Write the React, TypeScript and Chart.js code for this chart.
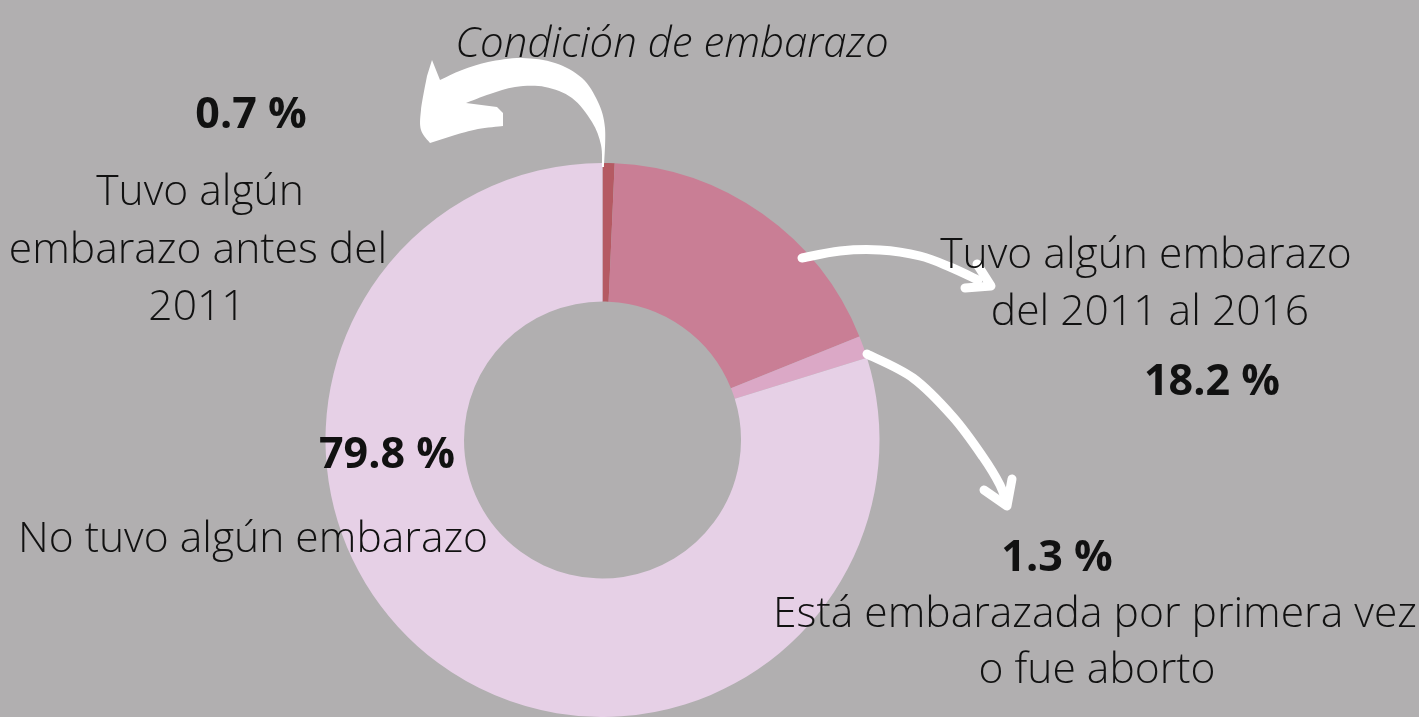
import React, { useEffect, useRef } from "react";
import { Chart, registerables } from "chart.js";

Chart.register(...registerables);

const categories = [
  "Tuvo algún embarazo antes del 2011",
  "Tuvo algún embarazo del 2011 al 2016",
  "Está embarazada por primera vez o fue aborto",
  "No tuvo algún embarazo",
];
const values = [0.7, 18.2, 1.3, 79.8];
const colors = ["#b55a63", "#c97e95", "#dba8c6", "#e6d0e6"];
const title = "Condición de embarazo";
const labelLines = [
  ["Tuvo algún", "embarazo antes del", "2011"],
  ["Tuvo algún embarazo", "del 2011 al 2016"],
  ["Está embarazada por primera vez", "o fue aborto"],
  ["No tuvo algún embarazo"],
];

const BG = "#b1afb0";
const FONT = '"Open Sans", "DejaVu Sans", sans-serif';

type P = [number, number];

function smooth(ctx: CanvasRenderingContext2D, pts: P[], start: boolean) {
  if (start) ctx.moveTo(pts[0][0], pts[0][1]);
  else ctx.lineTo(pts[0][0], pts[0][1]);
  for (let i = 0; i < pts.length - 1; i++) {
    const p0 = pts[Math.max(0, i - 1)];
    const p1 = pts[i];
    const p2 = pts[i + 1];
    const p3 = pts[Math.min(pts.length - 1, i + 2)];
    ctx.bezierCurveTo(
      p1[0] + (p2[0] - p0[0]) / 6,
      p1[1] + (p2[1] - p0[1]) / 6,
      p2[0] - (p3[0] - p1[0]) / 6,
      p2[1] - (p3[1] - p1[1]) / 6,
      p2[0],
      p2[1]
    );
  }
}

const decorPlugin = {
  id: "decor",
  beforeDraw(chart: any) {
    const ctx = chart.ctx as CanvasRenderingContext2D;
    ctx.save();
    ctx.fillStyle = BG;
    ctx.fillRect(0, 0, chart.width, chart.height);
    ctx.restore();
  },
  afterDraw(chart: any) {
    const ctx = chart.ctx as CanvasRenderingContext2D;
    ctx.save();
    // big curved arrow
    ctx.fillStyle = "#ffffff";
    ctx.beginPath();
    smooth(
      ctx,
      [
        [604, 167],
        [605, 128],
        [598, 102],
        [582, 78],
        [555, 63],
        [522, 58],
        [488, 62],
        [462, 70],
        [440, 80],
      ],
      true
    );
    ctx.lineTo(432, 60);
    smooth(
      ctx,
      [
        [427, 76],
        [421, 110],
        [421, 130],
        [430, 143],
      ],
      false
    );
    smooth(
      ctx,
      [
        [455, 135],
        [478, 129],
        [503, 126],
      ],
      false
    );
    ctx.lineTo(503, 113);
    ctx.lineTo(497, 107);
    ctx.lineTo(466, 103);
    smooth(
      ctx,
      [
        [466, 103],
        [490, 94],
        [515, 87],
        [545, 87],
        [572, 98],
        [592, 122],
        [601, 145],
        [602, 167],
      ],
      false
    );
    ctx.closePath();
    ctx.fill();

    ctx.strokeStyle = "#ffffff";
    ctx.lineWidth = 9;
    ctx.lineCap = "round";
    ctx.lineJoin = "round";
    // arrow 2
    ctx.beginPath();
    smooth(
      ctx,
      [
        [802, 258],
        [840, 251],
        [880, 250],
        [920, 256],
        [950, 267],
        [978, 280],
      ],
      true
    );
    ctx.stroke();
    ctx.beginPath();
    ctx.moveTo(977, 264);
    ctx.lineTo(991, 286);
    ctx.lineTo(965, 288);
    ctx.stroke();
    // arrow 3
    ctx.beginPath();
    smooth(
      ctx,
      [
        [867, 354],
        [913, 378],
        [953, 417],
        [983, 457],
        [1000, 485],
        [1006, 502],
      ],
      true
    );
    ctx.stroke();
    ctx.beginPath();
    ctx.moveTo(984, 490);
    ctx.lineTo(1007, 506);
    ctx.lineTo(1012, 479);
    ctx.stroke();

    // texts
    ctx.fillStyle = "#111111";
    ctx.textAlign = "center";
    ctx.textBaseline = "alphabetic";
    ctx.font = `italic 300 42px ${FONT}`;
    ctx.fillText(title, 672, 57);

    const pct = (v: number) => `${v.toFixed(1)} %`;
    ctx.font = `bold 43px ${FONT}`;
    ctx.fillText(pct(values[0]), 251, 128);
    ctx.fillText(pct(values[1]), 1212, 395);
    ctx.fillText(pct(values[2]), 1057, 571);
    ctx.fillText(pct(values[3]), 387, 468);

    ctx.font = `300 42.6px ${FONT}`;
    const l0 = labelLines[0];
    ctx.fillText(l0[0], 200, 205);
    ctx.fillText(l0[1], 198, 263);
    ctx.fillText(l0[2], 197, 320);
    const l1 = labelLines[1];
    ctx.fillText(l1[0], 1146, 268);
    ctx.fillText(l1[1], 1150, 325);
    const l2 = labelLines[2];
    ctx.fillText(l2[0], 1095, 627);
    ctx.fillText(l2[1], 1097, 683);
    ctx.fillText(labelLines[3][0], 253, 552);
    ctx.restore();
  },
};

export default function App() {
  const ref = useRef<HTMLCanvasElement | null>(null);
  useEffect(() => {
    if (!ref.current) return;
    const chart = new Chart(ref.current, {
      type: "doughnut",
      data: {
        labels: categories,
        datasets: [
          {
            data: values,
            backgroundColor: colors,
            borderWidth: 0,
          },
        ],
      },
      options: {
        animation: false,
        responsive: false,
        maintainAspectRatio: false,
        devicePixelRatio: 1,
        cutout: "50%",
        rotation: 0,
        layout: { padding: { left: 325, right: 539, top: 163, bottom: 0 } },
        plugins: {
          legend: { display: false },
          tooltip: { enabled: false },
          title: { display: false },
        },
      },
      plugins: [decorPlugin],
    });
    return () => chart.destroy();
  }, []);
  return (
    <div
      style={{
        position: "fixed",
        left: 0,
        top: 0,
        width: 1419,
        height: 717,
        background: BG,
      }}
    >
      <canvas ref={ref} width={1419} height={717} style={{ display: "block" }} />
    </div>
  );
}
